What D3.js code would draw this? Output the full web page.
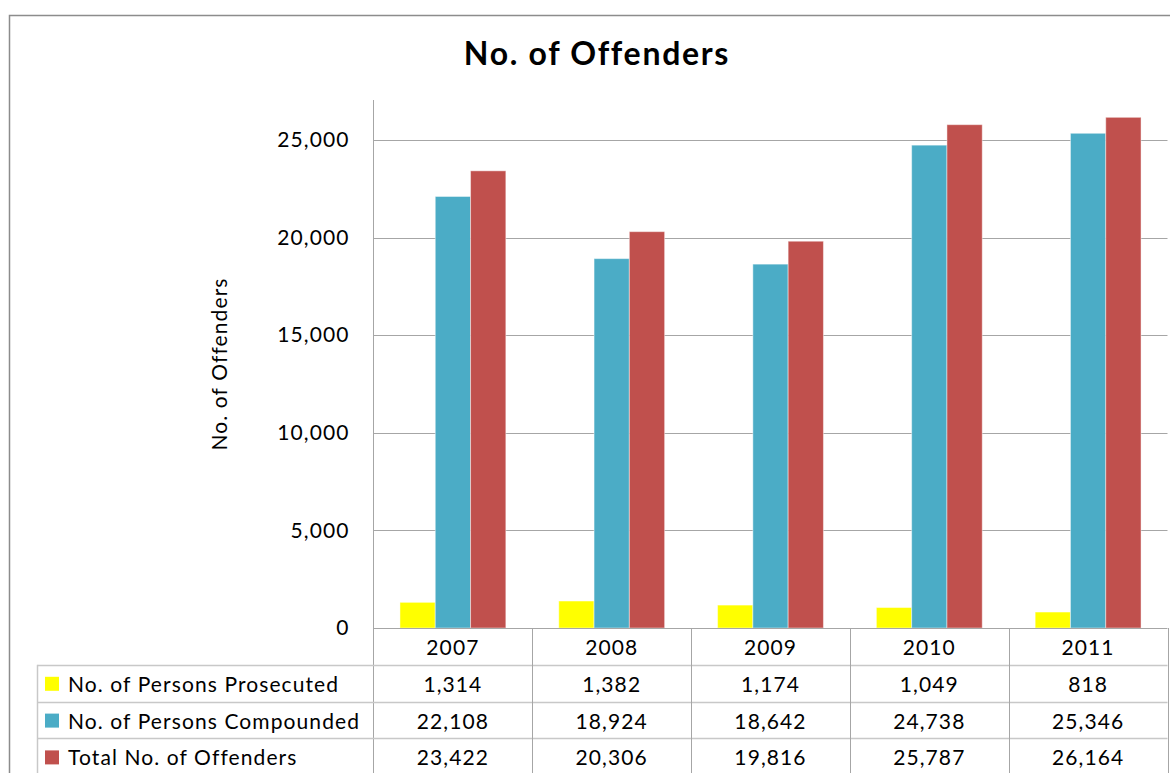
<!DOCTYPE html>
<html>
<head>
<meta charset="utf-8">
<script src="https://cdn.jsdelivr.net/npm/d3@7"></script>
<style>
  html, body { margin: 0; padding: 0; background: #fff; }
  svg { display: block; font-family: Lato, "Open Sans", sans-serif; }
</style>
</head>
<body>
<svg id="chart" width="1170" height="773"></svg>
<script>
// Offender counts by year
const years = ["2007", "2008", "2009", "2010", "2011"];
const seriesNames = ["No. of Persons Prosecuted", "No. of Persons Compounded", "Total No. of Offenders"];
const prosecuted = [1314, 1382, 1174, 1049, 818];
const compounded = [22108, 18924, 18642, 24738, 25346];
const totalOffenders = [23422, 20306, 19816, 25787, 26164];
const seriesColors = ["#FFFF00", "#4BACC6", "#C0504D"];
const yTicks = [0, 5000, 10000, 15000, 20000, 25000];

const seriesValues = [prosecuted, compounded, totalOffenders];
const fmt = d3.format(",");

const svg = d3.select("#chart");

// Shared text style
const FS = 21, LS = 1.1;
const styleText = sel => sel.attr("font-size", FS).attr("letter-spacing", LS).attr("fill", "#000");

// Plot frame
const plotLeft = 373.5, plotRight = 1167.5, plotTop = 101, plotBottom = 628;
const rowH = 36.8;
const tableLeft = 37.5;

// Outer chart border
svg.append("path")
  .attr("d", `M9.5,773 V15.5 H1170`)
  .attr("fill", "none").attr("stroke", "#8c8c8c").attr("stroke-width", 1.5);

// Title
svg.append("text")
  .attr("x", 597).attr("y", 65)
  .attr("text-anchor", "middle")
  .attr("font-size", 32).attr("font-weight", "bold").attr("letter-spacing", 1.7).attr("fill", "#000")
  .text("No. of Offenders");

const x = d3.scaleBand().domain(years).range([plotLeft, plotRight]).padding(0);
const barW = x.bandwidth() / 4.5;
const x1 = d3.scaleBand().domain(d3.range(seriesNames.length))
  .range([0, barW * 3]).padding(0);
const groupOffset = (x.bandwidth() - barW * 3) / 2;

const y = d3.scaleLinear().domain([0, 27000]).range([plotBottom, plotTop]);

// Gridlines
svg.append("g")
  .selectAll("line")
  .data(yTicks.filter(d => d > 0))
  .join("line")
  .attr("x1", plotLeft).attr("x2", plotRight)
  .attr("y1", d => Math.round(y(d)) + 0.5).attr("y2", d => Math.round(y(d)) + 0.5)
  .attr("stroke", "#a6a6a6").attr("stroke-width", 1);

// Y axis via d3.axisLeft, restyled
const yAxis = svg.append("g")
  .attr("transform", `translate(${plotLeft},0)`)
  .call(d3.axisLeft(y).tickValues(yTicks).tickFormat(fmt).tickSize(0).tickPadding(24));
yAxis.select(".domain").remove();
yAxis.selectAll("text")
  .call(styleText)
  .attr("font-family", "Lato, 'Open Sans', sans-serif");

// Bars
const groups = svg.append("g").selectAll("g")
  .data(years)
  .join("g")
  .attr("transform", d => `translate(${x(d) + groupOffset},0)`);

groups.selectAll("rect")
  .data((d, i) => seriesValues.map((vals, s) => ({ s, v: vals[i] })))
  .join("rect")
  .attr("x", d => x1(d.s))
  .attr("width", x1.bandwidth())
  .attr("y", d => y(d.v))
  .attr("height", d => y(0) - y(d.v))
  .attr("fill", d => seriesColors[d.s])
  .attr("stroke", "rgba(255,255,255,0.45)")
  .attr("stroke-width", 1);

// Vertical axis line
svg.append("line")
  .attr("x1", plotLeft).attr("x2", plotLeft)
  .attr("y1", plotTop - 1).attr("y2", 773)
  .attr("stroke", "#a6a6a6").attr("stroke-width", 1);

// Data table
const table = svg.append("g");
const rowTop = i => plotBottom + rowH * i;

// Horizontal table lines
table.append("line")
  .attr("x1", plotLeft).attr("x2", plotRight)
  .attr("y1", plotBottom + 0.5).attr("y2", plotBottom + 0.5)
  .attr("stroke", "#a6a6a6");
[1, 2, 3].forEach(i => {
  table.append("line")
    .attr("x1", tableLeft).attr("x2", plotRight)
    .attr("y1", Math.round(rowTop(i)) + 0.5).attr("y2", Math.round(rowTop(i)) + 0.5)
    .attr("stroke", "#c8c8c8").attr("stroke-width", 1.5);
});

// Vertical table lines
table.append("line")
  .attr("x1", tableLeft).attr("x2", tableLeft)
  .attr("y1", rowTop(1)).attr("y2", 773)
  .attr("stroke", "#c8c8c8").attr("stroke-width", 1.5);
years.forEach(yr => {
  const xr = x(yr) + x.bandwidth();
  table.append("line")
    .attr("x1", Math.round(xr) + 0.5).attr("x2", Math.round(xr) + 0.5)
    .attr("y1", plotBottom).attr("y2", 773)
    .attr("stroke", "#a6a6a6").attr("stroke-width", 1);
});

// Year header
table.selectAll("text.year")
  .data(years)
  .join("text")
  .attr("class", "year")
  .attr("x", d => x(d) + x.bandwidth() / 2)
  .attr("y", rowTop(0) + 27)
  .attr("text-anchor", "middle")
  .call(styleText)
  .text(d => d);

// Series rows
seriesNames.forEach((name, s) => {
  const top = rowTop(s + 1);
  table.append("rect")
    .attr("x", 45).attr("y", top + 12)
    .attr("width", 14).attr("height", 14)
    .attr("fill", seriesColors[s]);
  table.append("text")
    .attr("x", 68).attr("y", top + 27)
    .call(styleText)
    .text(name);
  table.selectAll(`text.v${s}`)
    .data(seriesValues[s])
    .join("text")
    .attr("class", `v${s}`)
    .attr("x", (d, i) => x(years[i]) + x.bandwidth() / 2)
    .attr("y", top + 27)
    .attr("text-anchor", "middle")
    .call(styleText)
    .text(d => fmt(d));
});

// Y axis title
svg.append("text")
  .attr("transform", "translate(227,364) rotate(-90)")
  .attr("text-anchor", "middle")
  .call(styleText)
  .text("No. of Offenders");
</script>
</body>
</html>
